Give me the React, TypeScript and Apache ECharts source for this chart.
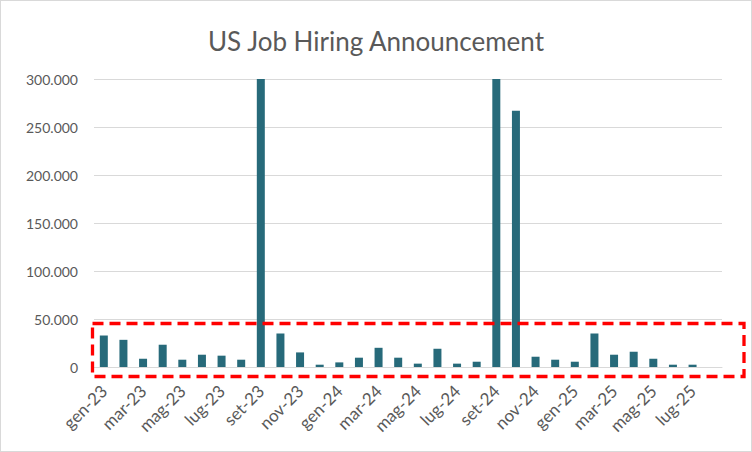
import * as echarts from 'echarts'
import { useEffect, useRef } from 'react'

// Mesi (gen-23 .. ago-25)
const months = [
  'gen-23', 'feb-23', 'mar-23', 'apr-23', 'mag-23', 'giu-23', 'lug-23', 'ago-23',
  'set-23', 'ott-23', 'nov-23', 'dic-23',
  'gen-24', 'feb-24', 'mar-24', 'apr-24', 'mag-24', 'giu-24', 'lug-24', 'ago-24',
  'set-24', 'ott-24', 'nov-24', 'dic-24',
  'gen-25', 'feb-25', 'mar-25', 'apr-25', 'mag-25', 'giu-25', 'lug-25', 'ago-25'
]

// Annunci di assunzione (set-23 e set-24 escono dalla scala)
const hirings: (number | null)[] = [
  32800, 28300, 8600, 23200, 7600, 12800, 11800, 7600,
  387000, 34900, 15200, 2400,
  4800, 9700, 20000, 9700, 3500, 19000, 3500, 5500,
  461000, 266800, 10700, 7600,
  5500, 34900, 12800, 15900, 8600, 2400, 2400, null
]

const yTicks = [0, 50000, 100000, 150000, 200000, 250000, 300000]

const fmt = (v: number) =>
  v === 0 ? '0' : String(v).replace(/\B(?=(\d{3})+(?!\d))/g, '.')

function App() {
  const chartRef = useRef<HTMLDivElement>(null)

  useEffect(() => {
    if (!chartRef.current) return
    const chart = echarts.init(chartRef.current, null, { renderer: 'svg' })

    chart.setOption({
      animation: false,
      backgroundColor: '#fff',
      textStyle: { fontFamily: 'Lato' },
      title: {
        text: 'US Job Hiring Announcement',
        left: 'center',
        top: 22,
        textStyle: { color: '#595959', fontSize: 26, fontWeight: 'normal', fontFamily: 'Lato' }
      },
      grid: { left: 93, right: 29, top: 78, bottom: 84 },
      xAxis: {
        type: 'category',
        data: months,
        axisLine: { lineStyle: { color: '#d9d9d9', width: 1 } },
        axisTick: { show: false },
        axisLabel: {
          interval: 1,
          rotate: 45,
          color: '#595959',
          fontSize: 17,
          margin: 21
        }
      },
      yAxis: {
        type: 'value',
        min: 0,
        max: yTicks[yTicks.length - 1],
        interval: yTicks[1] - yTicks[0],
        axisLine: { show: false },
        axisTick: { show: false },
        splitLine: { lineStyle: { color: '#d9d9d9', width: 1 } },
        axisLabel: {
          color: '#595959',
          fontSize: 14,
          margin: 16,
          formatter: (v: number) => fmt(v)
        }
      },
      series: [
        {
          type: 'bar',
          data: hirings,
          barWidth: 8,
          clip: true,
          itemStyle: { color: '#276a7a' }
        }
      ],
      graphic: [
        {
          type: 'rect',
          shape: { x: 91.5, y: 322.5, width: 651.5, height: 53 },
          style: { fill: 'none', stroke: '#ff0000', lineWidth: 3.3, lineDash: [11, 6] },
          z: 100
        }
      ]
    })

    return () => {
      chart.dispose()
    }
  }, [])

  return (
    <div
      style={{
        position: 'fixed',
        left: 0,
        top: 0,
        width: 752,
        height: 452,
        boxSizing: 'border-box',
        border: '1px solid #d9d9d9',
        background: '#fff'
      }}
    >
      <div ref={chartRef} style={{ width: 750, height: 450 }} />
    </div>
  )
}

export default App
